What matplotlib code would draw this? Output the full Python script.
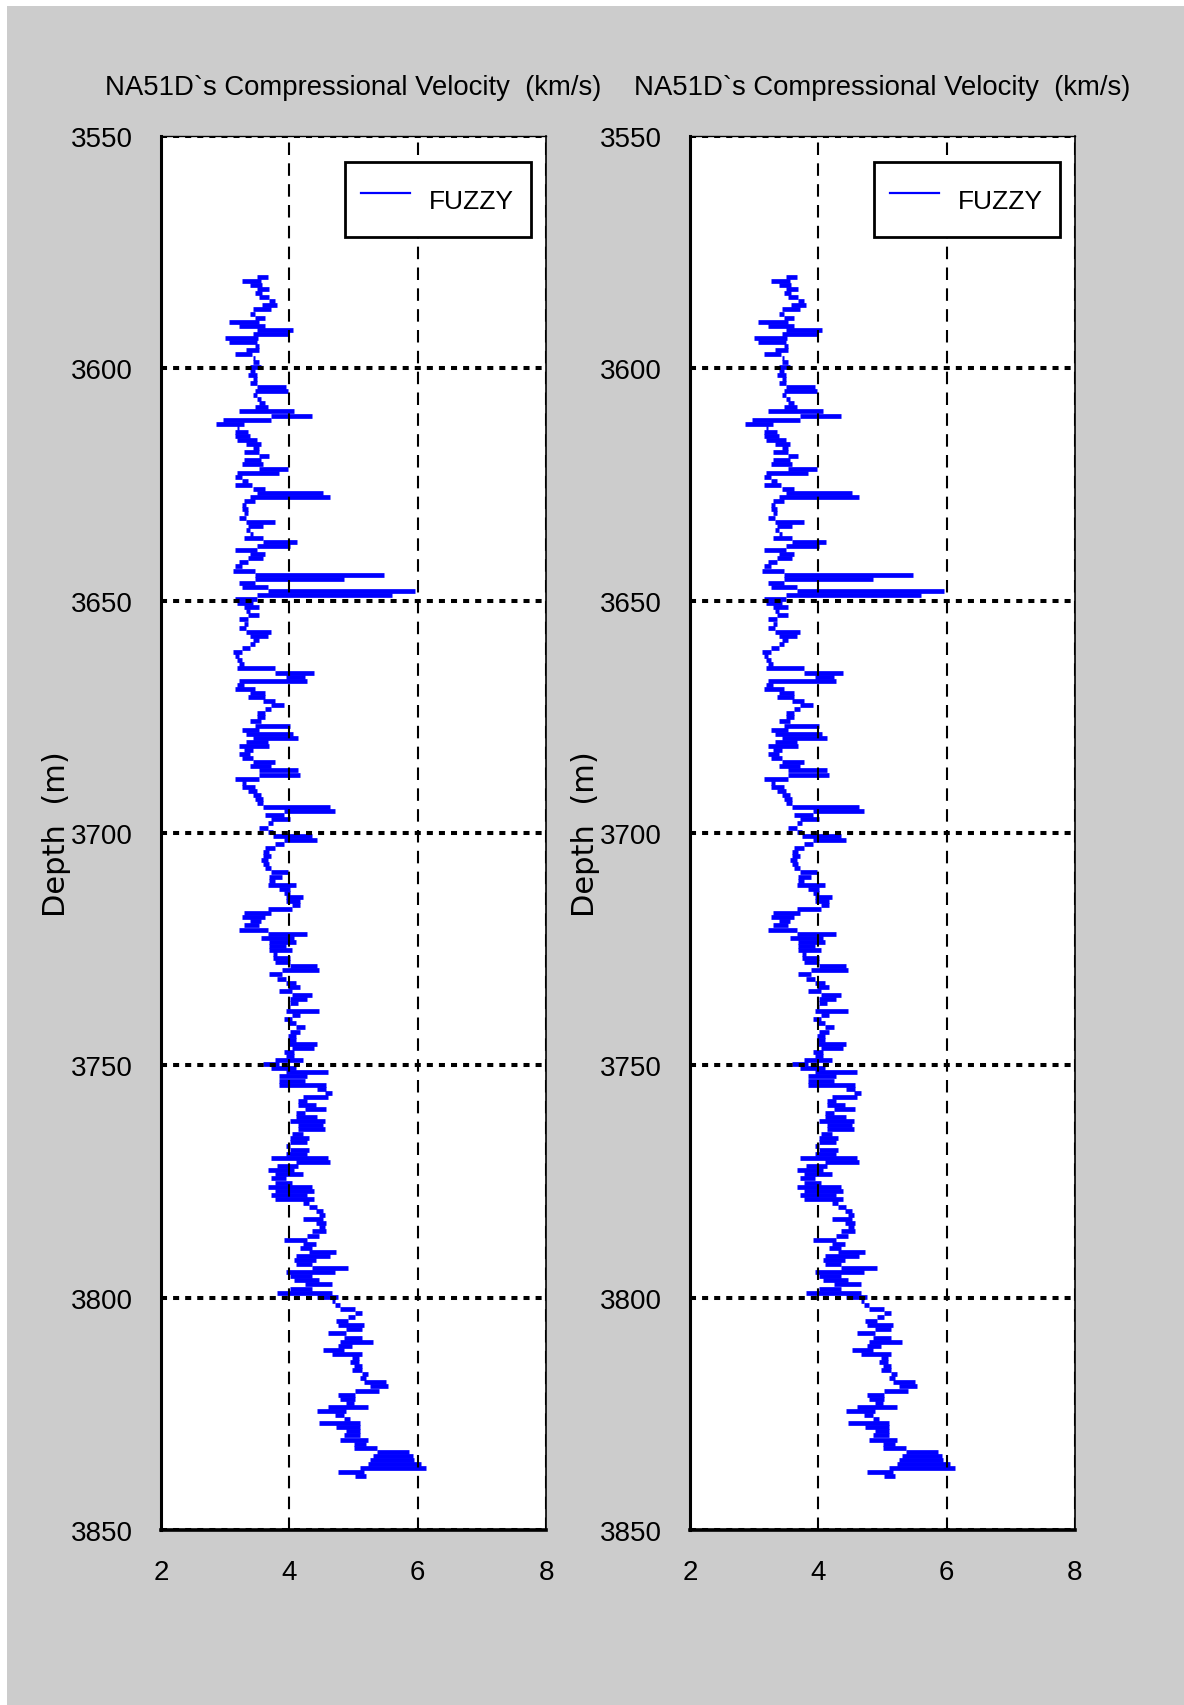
import numpy as np
import matplotlib
matplotlib.use('Agg')
import matplotlib.pyplot as plt
from matplotlib.lines import Line2D
from matplotlib.patches import Rectangle

# ---------------- data ----------------
depth_top = 3580.3      # first logged sample (m)
depth_step = 0.878      # sampling interval (m)

# velocity range (km/s) within each depth sample, top to bottom
vp_lo = [
    3.49, 3.27, 3.39, 3.49, 3.46, 3.52, 3.69, 3.57, 3.43, 3.39,
    3.46, 3.06, 3.22, 3.49, 3.43, 3.00, 3.06, 3.46, 3.33, 3.15,
    3.43, 3.43, 3.39, 3.39, 3.36, 3.43, 3.39, 3.49, 3.46, 3.43,
    3.49, 3.52, 3.46, 3.22, 3.72, 2.97, 2.86, 3.19, 3.15, 3.15,
    3.19, 3.33, 3.43, 3.30, 3.52, 3.30, 3.27, 3.52, 3.19, 3.15,
    3.27, 3.15, 3.43, 3.49, 3.39, 3.30, 3.27, 3.27, 3.30, 3.22,
    3.33, 3.36, 3.33, 3.39, 3.30, 3.59, 3.49, 3.15, 3.39, 3.36,
    3.22, 3.15, 3.12, 3.46, 3.46, 3.22, 3.27, 3.66, 3.49, 3.15,
    3.19, 3.30, 3.33, 3.36, 3.22, 3.30, 3.22, 3.33, 3.39, 3.43,
    3.39, 3.27, 3.12, 3.15, 3.19, 3.22, 3.19, 3.78, 3.95, 3.22,
    3.19, 3.15, 3.39, 3.36, 3.59, 3.72, 3.62, 3.49, 3.49, 3.39,
    3.46, 3.27, 3.33, 3.43, 3.33, 3.22, 3.30, 3.22, 3.27, 3.43,
    3.39, 3.52, 3.52, 3.15, 3.27, 3.27, 3.36, 3.43, 3.46, 3.49,
    3.59, 3.92, 3.62, 3.72, 3.66, 3.52, 3.66, 3.75, 3.92, 3.78,
    3.62, 3.59, 3.59, 3.56, 3.59, 3.62, 3.72, 3.69, 3.69, 3.66,
    3.84, 3.92, 3.95, 3.95, 4.04, 3.66, 3.30, 3.27, 3.39, 3.30,
    3.22, 3.66, 3.56, 3.69, 3.69,
    3.69, 3.75, 3.75, 3.78, 4.01, 3.89, 3.69, 3.81, 3.95, 3.98,
    3.84, 4.04, 4.01, 4.01, 3.98, 3.95, 4.04, 3.92, 3.98, 4.10,
    4.01, 3.98, 3.98, 3.98, 4.04, 3.92, 3.95, 3.78, 3.59, 3.72,
    3.95, 3.84, 3.84, 3.84, 4.43, 4.55, 4.22, 4.14, 4.14, 4.25,
    4.10, 4.10, 4.01, 4.14, 4.14, 4.04, 4.01, 4.01, 3.95, 4.01,
    3.95, 3.72, 4.10, 3.81, 3.66, 3.78, 3.72, 3.78, 3.66, 3.78,
    3.72, 3.78, 4.22, 4.31, 4.41, 4.47, 4.22, 4.41, 4.47, 4.35,
    4.28, 3.92, 4.22, 4.17,
    4.31, 4.10, 4.07, 4.10, 4.35, 3.95, 4.01, 4.07, 4.25, 4.01,
    3.81, 4.43, 4.67, 4.71, 4.79, 5.02, 4.91, 4.73, 4.76, 4.88,
    4.61, 4.85, 4.79, 4.76, 4.52, 4.67, 4.97, 4.94, 5.00, 4.97,
    5.14, 5.10, 5.17, 5.26, 5.02, 4.76, 4.79, 4.88, 4.61, 4.43,
    4.71, 4.85, 4.47, 4.73, 4.88, 4.85, 4.79, 5.00, 5.00, 5.36,
    5.30, 5.26, 5.23, 5.10, 4.76, 5.03,
]
vp_hi = [
    3.66, 3.56, 3.58, 3.69, 3.58, 3.69, 3.78, 3.81, 3.72, 3.46,
    3.62, 3.52, 3.62, 4.05, 3.99, 3.51, 3.49, 3.52, 3.52, 3.42,
    3.46, 3.52, 3.56, 3.46, 3.49, 3.49, 3.49, 3.95, 3.98, 3.49,
    3.56, 3.62, 3.66, 4.08, 4.35, 3.72, 3.30, 3.22, 3.36, 3.39,
    3.49, 3.56, 3.52, 3.52, 3.69, 3.56, 3.59, 3.98, 3.84, 3.27,
    3.36, 3.42, 3.62, 4.52, 4.64, 3.46, 3.33, 3.36, 3.36, 3.33,
    3.78, 3.59, 3.39, 3.43, 3.59, 4.12, 4.01, 3.49, 3.62, 3.59,
    3.36, 3.27, 3.46, 5.48, 4.85, 3.46, 3.66, 5.96, 5.60, 3.49,
    3.43, 3.52, 3.39, 3.52, 3.36, 3.36, 3.33, 3.72, 3.66, 3.52,
    3.46, 3.39, 3.26, 3.22, 3.26, 3.30, 3.78, 4.38, 4.25, 4.28,
    3.30, 3.46, 3.62, 3.62, 3.78, 3.92, 3.72, 3.62, 3.62, 3.56,
    4.01, 3.52, 4.05, 4.14, 3.66, 3.69, 3.43, 3.39, 3.43, 3.78,
    3.72, 4.14, 4.17, 3.52, 3.33, 3.46, 3.49, 3.56, 3.59, 3.59,
    4.64, 4.71, 3.92, 4.01, 3.75, 3.66, 3.75, 4.35, 4.43, 3.92,
    3.78, 3.69, 3.72, 3.66, 3.69, 3.72, 3.98, 3.89, 3.78, 4.10,
    4.01, 4.01, 4.22, 4.17, 4.17, 4.04, 3.72, 3.62, 3.56, 3.52,
    3.66, 4.28, 4.08, 4.10, 3.95,
    4.04, 3.81, 4.01, 4.01, 4.43, 4.47, 3.89, 3.95, 4.10, 4.17,
    4.04, 4.35, 4.28, 4.14, 4.01, 4.47, 4.17, 4.04, 4.10, 4.25,
    4.17, 4.10, 4.10, 4.43, 4.38, 4.07, 4.07, 4.22, 3.84, 4.10,
    4.61, 4.28, 4.25, 4.57, 4.57, 4.67, 4.61, 4.28, 4.41, 4.57,
    4.25, 4.43, 4.55, 4.52, 4.55, 4.22, 4.31, 4.28, 4.01, 4.31,
    4.28, 4.61, 4.64, 4.14, 4.07, 4.22, 3.95, 4.04, 4.35, 4.38,
    4.28, 4.38, 4.31, 4.43, 4.52, 4.55, 4.52, 4.57, 4.55, 4.57,
    4.47, 4.28, 4.41, 4.35,
    4.73, 4.64, 4.41, 4.35, 4.91, 4.71, 4.35, 4.47, 4.67, 4.35,
    4.67, 4.76, 4.71, 4.79, 5.02, 5.14, 5.02, 4.91, 5.17, 5.14,
    4.88, 5.14, 5.30, 4.97, 4.85, 5.14, 5.09, 5.09, 5.14, 5.14,
    5.23, 5.20, 5.50, 5.54, 5.39, 5.02, 5.02, 5.00, 5.23, 4.88,
    4.85, 4.94, 5.10, 5.10, 5.10, 5.10, 5.23, 5.20, 5.36, 5.86,
    5.92, 5.95, 6.05, 6.13, 5.17, 5.20,
]

panel_titles = ["NA51D`s Compressional Velocity  (km/s)",
                "NA51D`s Compressional Velocity  (km/s)"]
legend_label = "FUZZY"
depth_label = "Depth  (m)"
depth_ticks = [3550, 3600, 3650, 3700, 3750, 3800, 3850]
vel_ticks = [2, 4, 6, 8]

depth = depth_top + depth_step * np.arange(len(vp_lo))

# ---------------- figure ----------------
SANS = ['Liberation Sans', 'DejaVu Sans']
W, H = 1184, 1706
fig = plt.figure(figsize=(W / 100, H / 100), dpi=100)
fig.patch.set_facecolor('white')
fig.add_artist(Rectangle((7 / W, 0), 1, (H - 7) / H, transform=fig.transFigure,
                         facecolor='#cccccc', edgecolor='none', zorder=-10))

blue = '#0000ff'
lefts = [161 / W, 690 / W]
for i, left in enumerate(lefts):
    ax = fig.add_axes([left, 1 - 1531 / H, 385 / W, 1394 / H])
    ax.set_facecolor('white')
    ax.hlines(depth, vp_lo, vp_hi, colors=blue, linewidth=3.4,
              capstyle='butt', zorder=1)
    ax.set_xlim(2, 8)
    ax.set_ylim(3850, 3550)
    ax.set_xticks(vel_ticks)
    ax.set_yticks(depth_ticks)
    ax.set_axisbelow(False)
    ax.xaxis.grid(True, color='k', lw=1.5, linestyle=(0, (6, 4)))
    ax.yaxis.grid(True, color='k', lw=2.9, linestyle=(0, (1.5, 1.5)))
    ax.tick_params(axis='both', length=0, labelsize=20)
    ax.tick_params(axis='y', pad=20)
    ax.tick_params(axis='x', pad=21)
    for lab in ax.get_xticklabels() + ax.get_yticklabels():
        lab.set_fontfamily(SANS)
    for side, lw in (('left', 2.2), ('bottom', 2.6), ('right', 1.2), ('top', 1.0)):
        ax.spines[side].set_linewidth(lw)
        ax.spines[side].set_zorder(5)
    ax.set_title(panel_titles[i], fontsize=19.8, family=SANS, pad=30)
    ax.set_ylabel(depth_label, fontsize=22, family='DejaVu Sans', va='center')
    ax.yaxis.set_label_coords((56 - 161) / 385, 0.5)
    handle = Line2D([], [], color=blue, lw=1.6)
    leg = ax.legend([handle], [legend_label], loc='upper right',
                    bbox_to_anchor=(0.961, 0.981), borderaxespad=0,
                    fancybox=False, framealpha=1, edgecolor='black',
                    prop={'family': SANS, 'size': 19},
                    handlelength=1.86, handletextpad=0.72, borderpad=0.63,
                    handleheight=2.0)
    leg.get_frame().set_linewidth(2.0)
    leg.set_zorder(10)

fig.savefig('out.png', dpi=100, facecolor=fig.get_facecolor())
